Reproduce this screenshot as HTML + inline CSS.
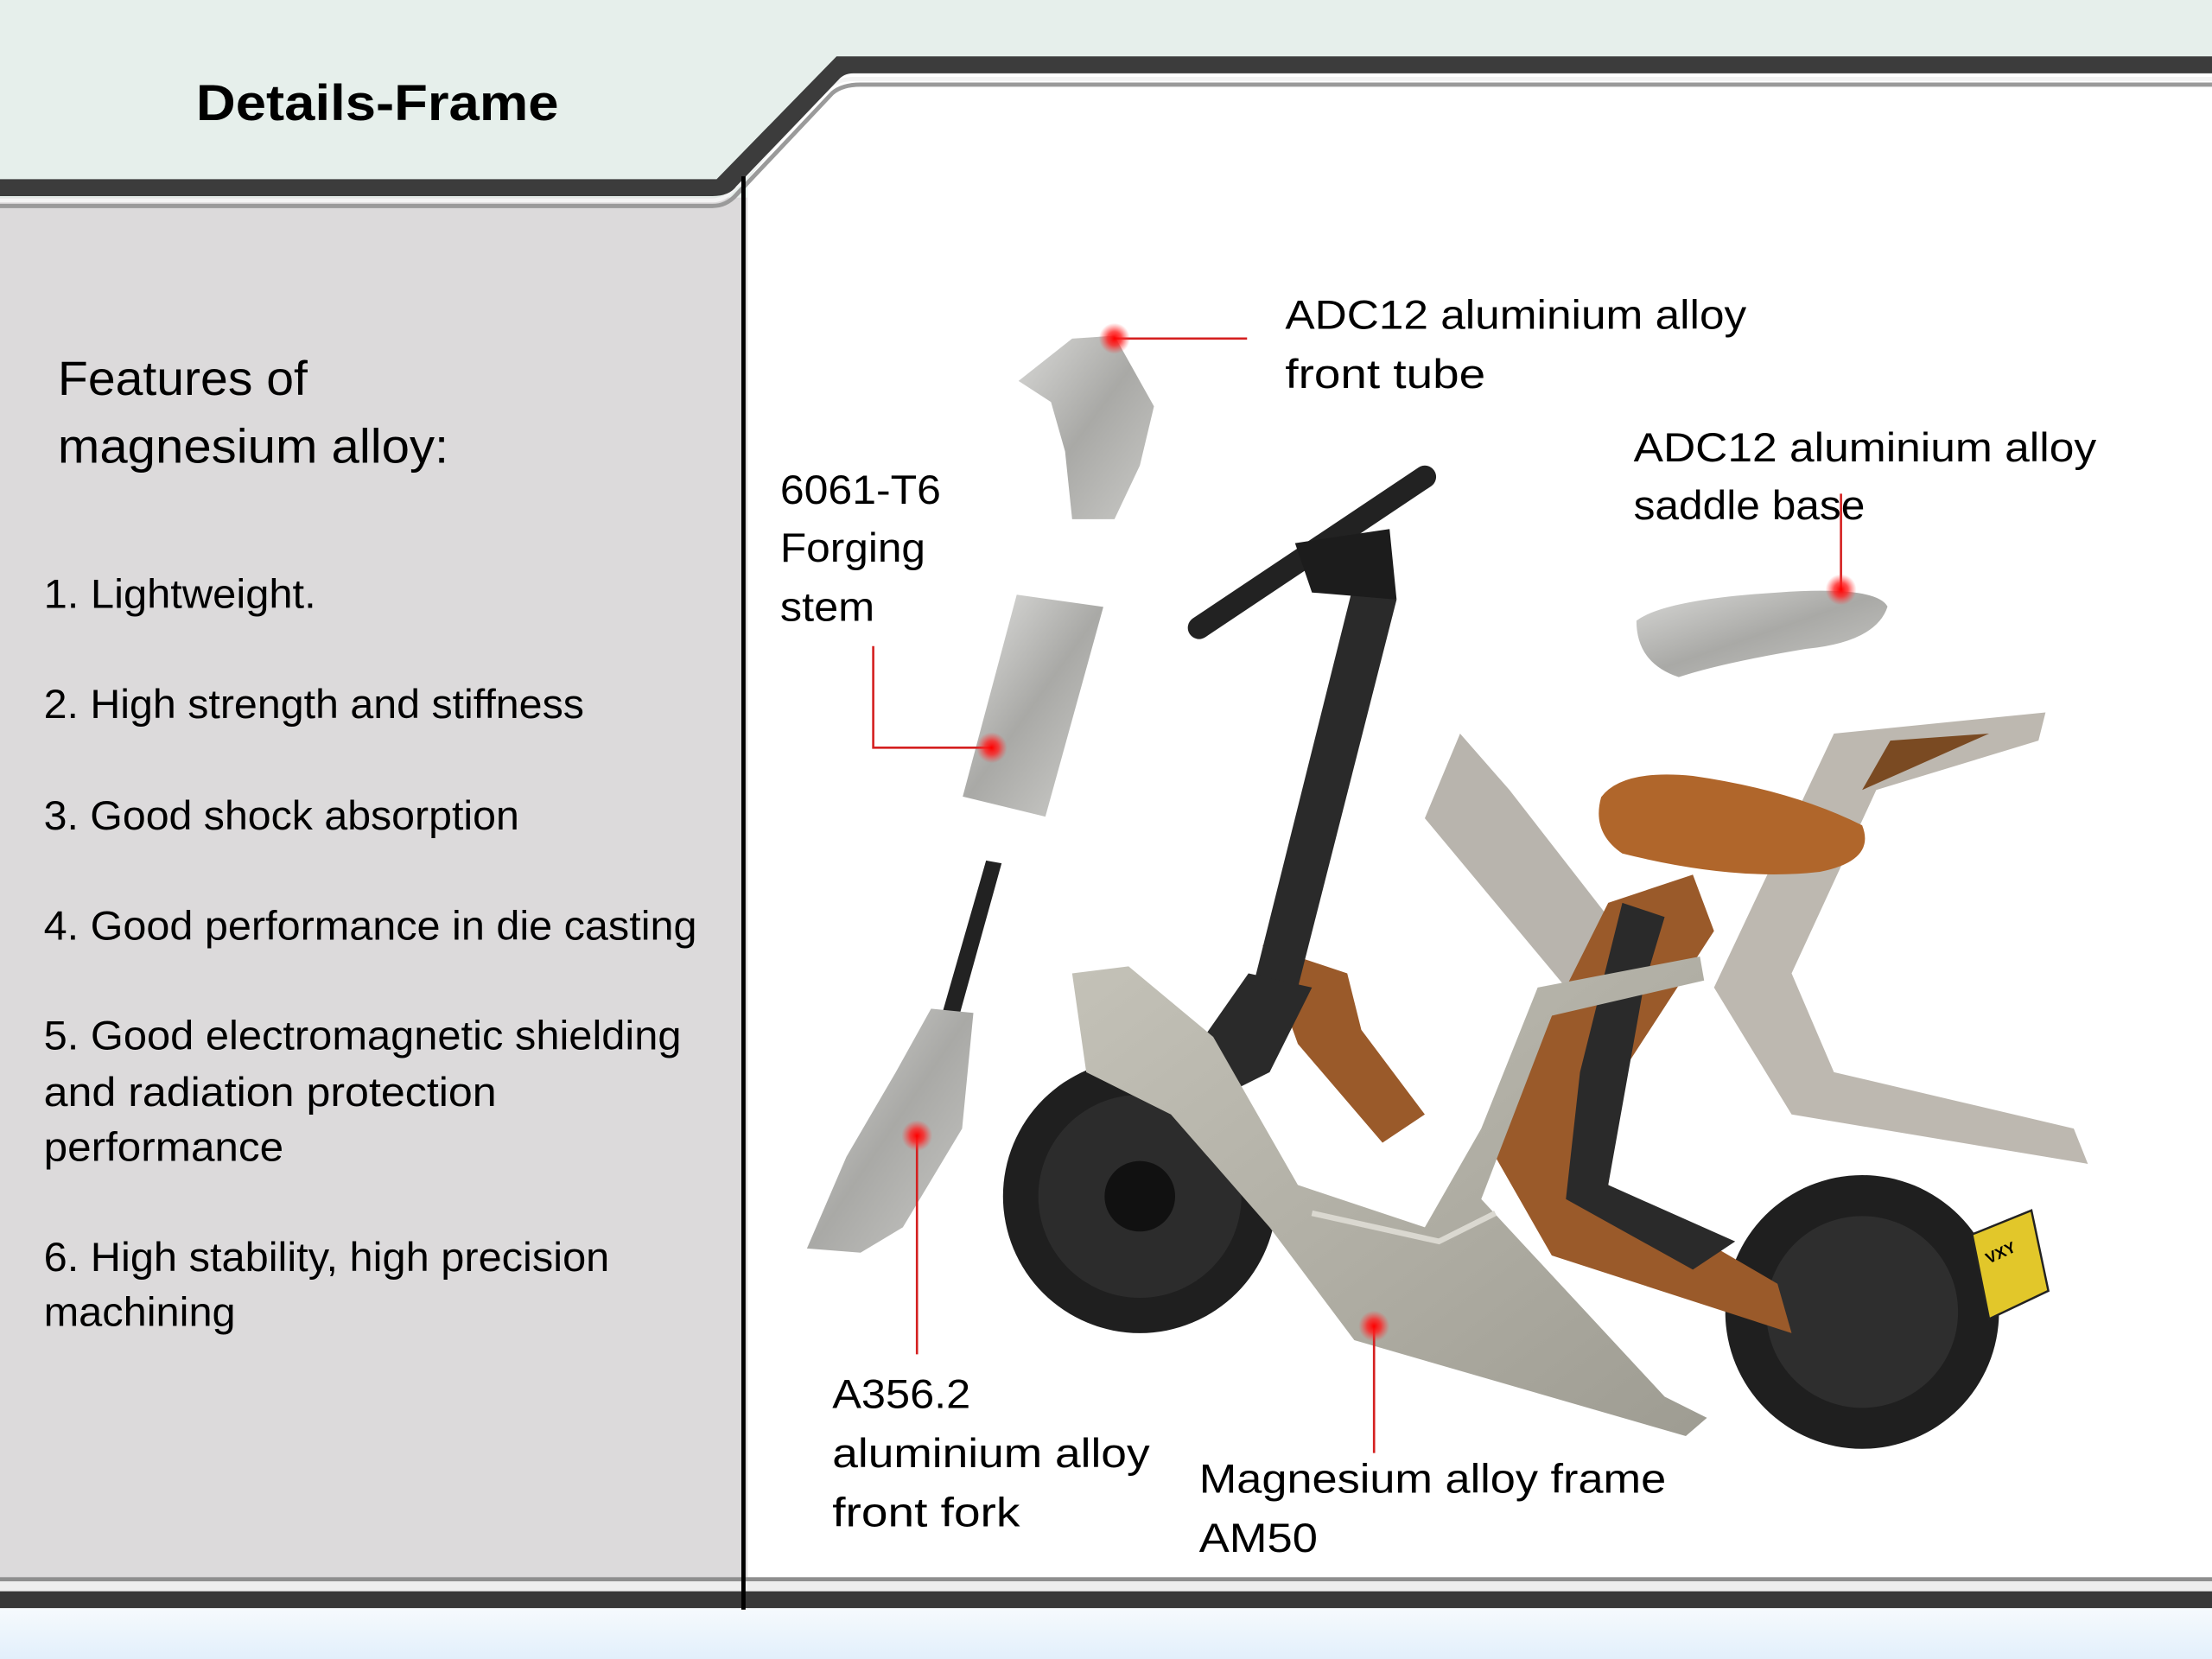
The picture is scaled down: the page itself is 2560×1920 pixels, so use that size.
<!DOCTYPE html>
<html><head><meta charset="utf-8"><style>
html,body{margin:0;padding:0;background:#fff}
svg{display:block}
text{font-family:"Liberation Sans",sans-serif;fill:#000}
</style></head><body>
<svg width="2560" height="1920" viewBox="0 0 1568 1176" xmlns="http://www.w3.org/2000/svg">
<defs>
<radialGradient id="rd"><stop offset="0" stop-color="#ff0000"/><stop offset="0.45" stop-color="#ff2020" stop-opacity="0.8"/><stop offset="1" stop-color="#ff4040" stop-opacity="0"/></radialGradient>
<linearGradient id="sil" x1="0" y1="0" x2="1" y2="1"><stop offset="0" stop-color="#d8d8d6"/><stop offset="0.5" stop-color="#a9a9a6"/><stop offset="1" stop-color="#c9c9c6"/></linearGradient>
<linearGradient id="mg" x1="0" y1="0" x2="1" y2="1"><stop offset="0" stop-color="#c4c2b8"/><stop offset="1" stop-color="#9e9c92"/></linearGradient>
<linearGradient id="bot" x1="0" y1="0" x2="0" y2="1"><stop offset="0" stop-color="#f6fafd"/><stop offset="1" stop-color="#e2effb"/></linearGradient>
</defs>
<rect x="0" y="0" width="1568" height="140" fill="#e6efeb"/>
<rect x="0" y="140" width="530" height="990" fill="#dcdadb"/>
<path d="M593,52 L1568,52 L1568,1130 L530,1130 L530,127 Z" fill="#fff"/>
<path d="M0,146 L505,146 Q515,146 522,138 L590,66 Q597,60 610,60 L1568,60" fill="none" stroke="#9a9a9a" stroke-width="3"/>
<path d="M0,142 L505,142 Q513,142 519,135 L587,62 Q594,56 606,56 L1568,56" fill="none" stroke="#f4f4f4" stroke-width="3"/>
<path d="M593,40 L1568,40 L1568,52 L605,52 Q598,52 594,57 L522,132 Q517,139 505,139 L0,139 L0,127 L508,127 Z" fill="#3c3c3c"/>
<rect x="0" y="1118" width="1568" height="3" fill="#8e8e8e"/>
<rect x="0" y="1121" width="1568" height="7" fill="#eeeeee"/>
<rect x="0" y="1128" width="1568" height="12" fill="#383838"/>
<rect x="0" y="1140" width="1568" height="36" fill="url(#bot)"/>
<rect x="525.5" y="125" width="3" height="1016" fill="#000"/>

<text x="139" y="85" font-size="36" font-weight="bold" textLength="257" lengthAdjust="spacingAndGlyphs">Details-Frame</text>
<text x="41" y="280" font-size="34" textLength="177" lengthAdjust="spacingAndGlyphs">Features of</text>
<text x="41" y="328" font-size="34" textLength="277" lengthAdjust="spacingAndGlyphs">magnesium alloy:</text>
<g font-size="29">
<text x="31" y="431" textLength="193" lengthAdjust="spacingAndGlyphs">1. Lightweight.</text>
<text x="31" y="509" textLength="383" lengthAdjust="spacingAndGlyphs">2. High strength and stiffness</text>
<text x="31" y="588" textLength="337" lengthAdjust="spacingAndGlyphs">3. Good shock absorption</text>
<text x="31" y="666" textLength="463" lengthAdjust="spacingAndGlyphs">4. Good performance in die casting</text>
<text x="31" y="744" textLength="452" lengthAdjust="spacingAndGlyphs">5. Good electromagnetic shielding</text>
<text x="31" y="784" textLength="321" lengthAdjust="spacingAndGlyphs">and radiation protection</text>
<text x="31" y="823" textLength="170" lengthAdjust="spacingAndGlyphs">performance</text>
<text x="31" y="901" textLength="401" lengthAdjust="spacingAndGlyphs">6. High stability, high precision</text>
<text x="31" y="940" textLength="136" lengthAdjust="spacingAndGlyphs">machining</text>
</g>

<!-- exploded parts -->
<path d="M722,270 L760,240 L790,238 L818,288 L808,330 L790,368 L760,368 L755,320 L745,285 Z" fill="url(#sil)"/>
<path d="M710,425 L772,425 L752,578 L692,572 Z" fill="url(#sil)" transform="rotate(8 740 500)"/>
<path d="M699,610 L710,612 L680,720 L668,718 Z" fill="#222"/>
<path d="M660,715 L690,718 L682,800 L640,870 L610,888 L572,885 L600,820 L635,760 Z" fill="url(#sil)"/>
<path d="M1160,440 Q1180,425 1260,420 Q1330,415 1338,430 Q1330,455 1280,460 Q1220,470 1190,480 Q1160,470 1160,440 Z" fill="url(#sil)"/>

<!-- scooter -->
<circle cx="1320" cy="930" r="97" fill="#1f1f1f"/>
<circle cx="1320" cy="930" r="68" fill="#2e2e2e"/>
<circle cx="808" cy="848" r="97" fill="#1f1f1f"/>
<circle cx="808" cy="848" r="72" fill="#2c2c2c"/>
<circle cx="808" cy="848" r="25" fill="#111"/>
<path d="M1010,580 L1035,520 L1070,560 L1140,650 L1110,700 Z" fill="#b8b4ad"/>
<path d="M1300,520 L1450,505 L1445,525 L1330,560 L1270,690 L1300,760 L1470,800 L1480,825 L1270,790 L1215,700 Z" fill="#bdb8b0"/>
<path d="M1340,525 L1410,520 L1320,560 Z" fill="#7a4a22"/>
<path d="M1140,640 L1200,620 L1215,660 L1150,760 L1140,840 L1260,910 L1270,945 L1100,890 L1060,820 L1100,720 Z" fill="#9a5a2a"/>
<path d="M895,670 L955,690 L965,730 L1010,790 L980,810 L920,740 Z" fill="#9a5a2a"/>
<path d="M958,420 L990,425 L920,700 L888,700 Z" fill="#2a2a2a"/>
<path d="M885,690 L930,700 L900,760 L860,780 L850,740 Z" fill="#2a2a2a"/>
<path d="M1150,640 L1120,760 L1110,850 L1200,900 L1230,880 L1140,840 L1165,700 L1180,650 Z" fill="#2a2a2a"/>
<path d="M850,445 L1010,338" stroke="#222" stroke-width="16" stroke-linecap="round"/>
<path d="M918,385 L985,375 L990,425 L930,420 Z" fill="#1c1c1c"/>
<path d="M1135,565 Q1150,545 1200,550 Q1270,560 1320,585 Q1330,610 1290,618 Q1230,625 1150,605 Q1128,590 1135,565 Z" fill="#b0662b"/>
<path d="M760,690 L800,685 L860,735 L920,840 L1010,870 L1050,800 L1090,700 L1205,678 L1208,695 L1100,720 L1050,850 L1180,990 L1210,1005 L1195,1018 L960,950 L900,870 L830,790 L770,760 Z" fill="url(#mg)"/>
<path d="M930,860 L1020,880 L1060,860" fill="none" stroke="#dad8d0" stroke-width="4"/>
<path d="M1398,875 L1440,858 L1452,915 L1410,935 Z" fill="#e2c72a" stroke="#222" stroke-width="1.5"/>
<text x="1408" y="892" font-size="11" font-weight="bold" transform="rotate(-25 1418 890)">VXY</text>

<g stroke="#d42020" stroke-width="1.6" fill="none">
<path d="M790,240 L884,240"/>
<path d="M1305,350 L1305,418"/>
<path d="M619,458 L619,530 L703,530"/>
<path d="M650,805 L650,960"/>
<path d="M974,940 L974,1030"/>
</g>
<g fill="url(#rd)">
<circle cx="790" cy="240" r="11"/>
<circle cx="1305" cy="418" r="11"/>
<circle cx="703" cy="530" r="11"/>
<circle cx="650" cy="805" r="11"/>
<circle cx="974" cy="940" r="11"/>
</g>

<g font-size="29">
<text x="911" y="233" textLength="327" lengthAdjust="spacingAndGlyphs">ADC12 aluminium alloy</text>
<text x="911" y="275" textLength="142" lengthAdjust="spacingAndGlyphs">front tube</text>
<text x="1158" y="327" textLength="328" lengthAdjust="spacingAndGlyphs">ADC12 aluminium alloy</text>
<text x="1158" y="368" textLength="164" lengthAdjust="spacingAndGlyphs">saddle base</text>
<text x="553" y="357" textLength="114" lengthAdjust="spacingAndGlyphs">6061-T6</text>
<text x="553" y="398" textLength="103" lengthAdjust="spacingAndGlyphs">Forging</text>
<text x="553" y="440" textLength="67" lengthAdjust="spacingAndGlyphs">stem</text>
<text x="590" y="998" textLength="98" lengthAdjust="spacingAndGlyphs">A356.2</text>
<text x="590" y="1040" textLength="225" lengthAdjust="spacingAndGlyphs">aluminium alloy</text>
<text x="590" y="1082" textLength="133" lengthAdjust="spacingAndGlyphs">front fork</text>
<text x="850" y="1058" textLength="331" lengthAdjust="spacingAndGlyphs">Magnesium alloy frame</text>
<text x="850" y="1100" textLength="84" lengthAdjust="spacingAndGlyphs">AM50</text>
</g>
</svg>
</body></html>
